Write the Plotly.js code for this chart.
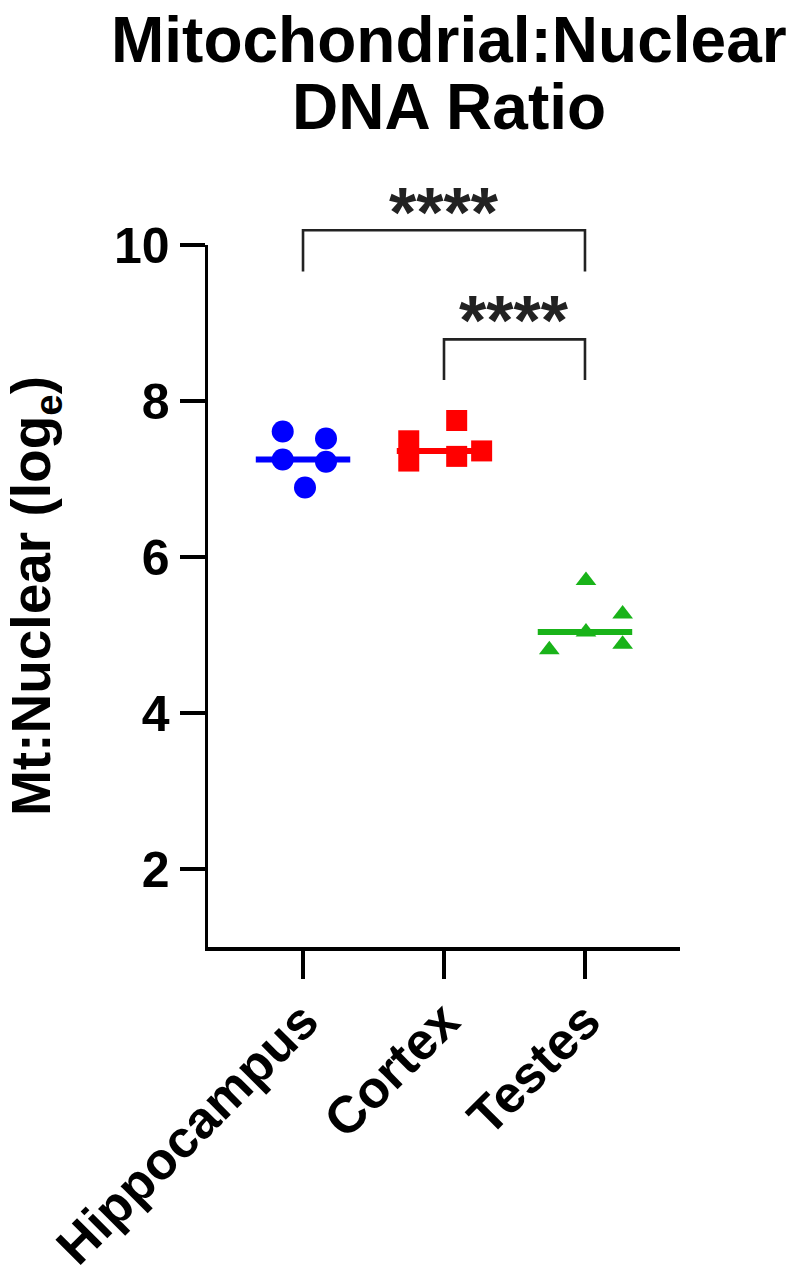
<!DOCTYPE html>
<html>
<head>
<meta charset="utf-8">
<script src="https://cdn.plot.ly/plotly-3.0.1.min.js"></script>
<style>
  html, body { margin: 0; padding: 0; background: #fff; }
  #chart { width: 802px; height: 1280px; }
</style>
</head>
<body>
<div id="chart"></div>
<script>
// ---- data ----
const categories = ['Hippocampus', 'Cortex', 'Testes'];
const hippocampus = [7.61, 7.52, 7.25, 7.22, 6.89];
const cortex = [7.49, 7.23, 7.75, 7.29, 7.36];
const testes = [5.70, 5.27, 4.81, 5.04, 4.88];
// horizontal scatter offsets of the points within each column (category units)
const hippocampusJitter = [-0.144, 0.163, -0.144, 0.163, 0.014];
const cortexJitter = [-0.25, -0.25, 0.09, 0.09, 0.267];
const testesJitter = [0.007, 0.267, -0.253, 0.007, 0.267];
const yTickVals = [2, 4, 6, 8, 10];
const comparisons = [
  { from: 0, to: 2, label: '****' },
  { from: 1, to: 2, label: '****' }
];
const chartTitle = ['Mitochondrial:Nuclear', 'DNA Ratio'];
const yTitle = 'Mt:Nuclear (log<sub>e</sub>)';

// ---- styling ----
const FONT = 'Liberation Sans, Arial, Helvetica, sans-serif';
const colors = ['#0000FF', '#FF0000', '#19B319'];
const symbols = ['circle', 'square', 'triangle-up'];
const sizes = [22, 21, 18];
const xRange = [-0.674, 2.674];
const yRange = [1, 10];

function median(a) {
  const s = a.slice().sort((p, q) => p - q);
  const n = s.length;
  return n % 2 ? s[(n - 1) / 2] : (s[n / 2 - 1] + s[n / 2]) / 2;
}
const px = x => (x - xRange[0]) / (xRange[1] - xRange[0]);
const py = y => (y - yRange[0]) / (yRange[1] - yRange[0]);

const groups = [hippocampus, cortex, testes];
const jitters = [hippocampusJitter, cortexJitter, testesJitter];

const traces = [];
groups.forEach((vals, g) => {
  const m = median(vals);
  traces.push({
    x: [g - 0.335, g + 0.335], y: [m, m],
    mode: 'lines', line: { color: colors[g], width: 6 },
    hoverinfo: 'skip', showlegend: false
  });
  traces.push({
    x: vals.map((v, i) => g + jitters[g][i]), y: vals,
    mode: 'markers', name: categories[g],
    marker: { color: colors[g], symbol: symbols[g], size: sizes[g], line: { width: 0 } },
    showlegend: false
  });
});

// significance brackets (paper coords derived from data scale so they can sit above the axis)
const shapes = [];
const annotations = [];
const bracketTop = [10.19, 8.79];
const bracketDrop = [9.66, 8.27];
const starY = [10.404, 9.032];
comparisons.forEach((c, k) => {
  shapes.push({
    type: 'path', xref: 'paper', yref: 'paper',
    path: `M ${px(c.from)} ${py(bracketDrop[k])} L ${px(c.from)} ${py(bracketTop[k])} L ${px(c.to)} ${py(bracketTop[k])} L ${px(c.to)} ${py(bracketDrop[k])}`,
    line: { color: '#222', width: 2.6 }
  });
  annotations.push({
    xref: 'paper', yref: 'paper', x: px((c.from + c.to) / 2), y: py(starY[k]),
    text: c.label, showarrow: false, xanchor: 'center', yanchor: 'middle',
    font: { family: FONT, size: 70, color: '#222', weight: 700 }
  });
});

// title lines
annotations.push({
  xref: 'paper', yref: 'paper', x: (449 - 208) / 472, y: 1 + (245 - 40) / 702,
  text: chartTitle[0], showarrow: false, xanchor: 'center', yanchor: 'middle',
  font: { family: FONT, size: 64, color: '#000', weight: 700 }
});
annotations.push({
  xref: 'paper', yref: 'paper', x: (449 - 208) / 472, y: 1 + (245 - 107) / 702,
  text: chartTitle[1], showarrow: false, xanchor: 'center', yanchor: 'middle',
  font: { family: FONT, size: 64, color: '#000', weight: 700 }
});
// y-axis title
annotations.push({
  xref: 'paper', yref: 'paper', x: (35 - 208) / 472, y: 0.5,
  text: yTitle, showarrow: false, textangle: -90, xanchor: 'center', yanchor: 'middle',
  font: { family: FONT, size: 55, color: '#000', weight: 700 }
});

const layout = {
  width: 802, height: 1280,
  margin: { l: 208, r: 122, t: 245, b: 333 },
  paper_bgcolor: '#fff', plot_bgcolor: '#fff',
  showlegend: false,
  font: { family: FONT, color: '#000' },
  xaxis: {
    range: xRange, tickmode: 'array', tickvals: [0, 1, 2], ticktext: categories,
    tickangle: -45, showgrid: false, zeroline: false,
    showline: true, linecolor: '#000', linewidth: 3.5,
    ticks: 'outside', ticklen: 28, tickwidth: 3.5, tickcolor: '#000',
    ticklabelstandoff: -9,
    tickfont: { family: FONT, size: 52, color: '#000', weight: 700 }
  },
  yaxis: {
    range: yRange, tickmode: 'array', tickvals: yTickVals,
    showgrid: false, zeroline: false,
    showline: true, linecolor: '#000', linewidth: 3.5,
    ticks: 'outside', ticklen: 25, tickwidth: 3.5, tickcolor: '#000',
    tickfont: { family: FONT, size: 50, color: '#000', weight: 700 }
  },
  shapes: shapes,
  annotations: annotations
};

Plotly.newPlot('chart', traces, layout, { staticPlot: true, displayModeBar: false });
</script>
</body>
</html>
